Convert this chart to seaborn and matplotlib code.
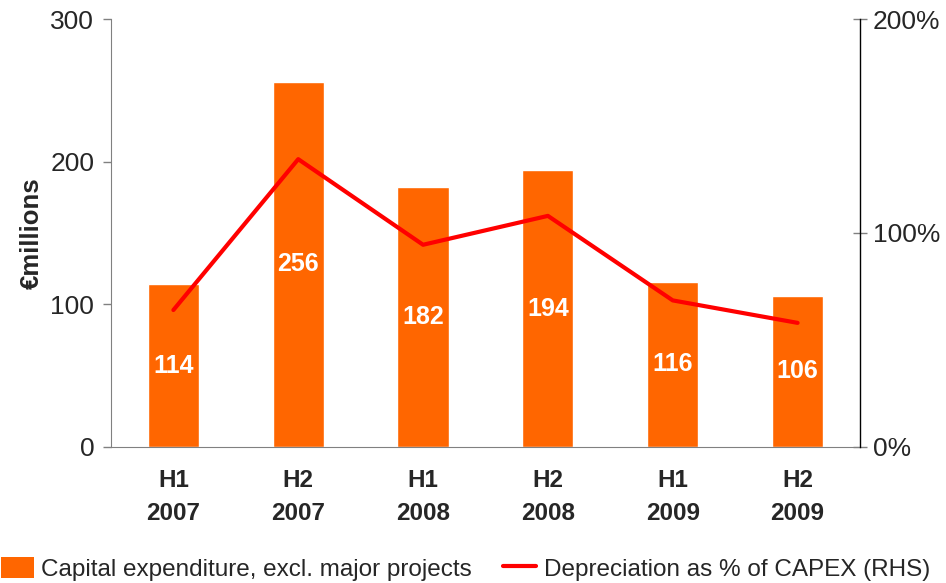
import numpy as np
import pandas as pd
import matplotlib.pyplot as plt
from matplotlib.patches import Patch
from matplotlib.lines import Line2D
import seaborn as sns

# Set the style for seaborn
sns.set_style("white")
plt.rcParams['font.family'] = ['Liberation Sans', 'DejaVu Sans']

# Chart data
periods = ['H1\n2007', 'H2\n2007', 'H1\n2008', 'H2\n2008', 'H1\n2009', 'H2\n2009']
capex = [114, 256, 182, 194, 116, 106]
depreciation_pct = [64, 134.5, 94.5, 108, 68.5, 58]

bar_color = '#FF6600'
line_color = '#FF0000'

df = pd.DataFrame({'period': periods, 'capex': capex, 'dep': depreciation_pct})
df['pos'] = np.arange(len(df))

fig = plt.figure(figsize=(9.46, 5.83), dpi=100)
ax = fig.add_axes([0.1173, 0.2333, 0.7918, 0.7341])

# Bars
sns.barplot(data=df, x='period', y='capex', color=bar_color, saturation=1,
            width=0.41, ax=ax)
ax.set_xlim(-0.5, len(df) - 0.5)
ax.set_ylim(0, 300)
ax.set_yticks([0, 100, 200, 300])
ax.set_xlabel('')
ax.set_ylabel('€millions', fontsize=18.5, fontweight='bold', labelpad=5)
ax.tick_params(axis='y', labelsize=19, length=6, width=1, color='#808080',
               direction='out', pad=6)
ax.tick_params(axis='x', labelsize=17.5, length=0, pad=16)
for lbl in ax.get_xticklabels():
    lbl.set_fontweight('bold')
    lbl.set_linespacing(1.55)

# Values inside the bars
for bar, val in zip(ax.patches, df['capex']):
    ax.text(bar.get_x() + bar.get_width() / 2, val / 2, str(val),
            ha='center', va='center', color='white', fontsize=18,
            fontweight='bold')

for side in ['top', 'right']:
    ax.spines[side].set_visible(False)
ax.spines['left'].set_color('#808080')
ax.spines['bottom'].set_color('#808080')

# Depreciation line on the right-hand axis
ax2 = ax.twinx()
sns.lineplot(data=df, x='pos', y='dep', color=line_color, linewidth=3, ax=ax2)
ax2.set_ylim(0, 200)
ax2.set_yticks([0, 100, 200])
ax2.set_yticklabels(['0%', '100%', '200%'])
ax2.set_ylabel('')
ax2.tick_params(axis='y', labelsize=19, length=10, width=1, color='#808080',
                direction='inout', pad=4)
for side in ['top', 'left', 'bottom']:
    ax2.spines[side].set_visible(False)
ax2.spines['right'].set_color('black')
ax2.spines['right'].set_linewidth(1)

# Legend at the bottom
handles = [Patch(facecolor=bar_color, edgecolor='none'),
           Line2D([0], [0], color=line_color, linewidth=3)]
labels = ['Capital expenditure, excl. major projects',
          'Depreciation as % of CAPEX (RHS)']
fig.legend(handles, labels, loc='lower center', bbox_to_anchor=(0.492, -0.034),
           ncol=2, frameon=False, fontsize=17.5, handlelength=1.35,
           handleheight=1.0, handletextpad=0.3, columnspacing=1.3)

fig.savefig('out.png', dpi=100)
